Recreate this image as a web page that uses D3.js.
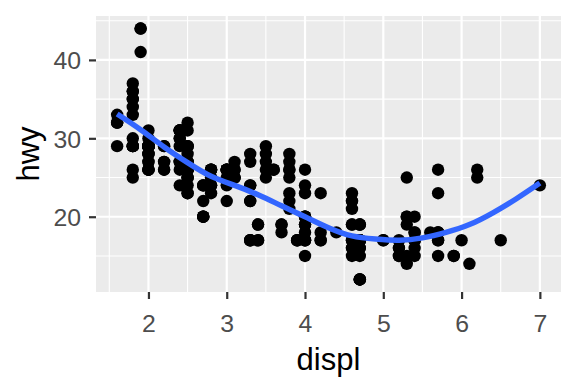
<!DOCTYPE html>
<html>
<head>
<meta charset="utf-8">
<script src="https://cdn.jsdelivr.net/npm/d3@7"></script>
<style>
  html, body { margin: 0; padding: 0; background: #fff; }
  svg { display: block; font-family: "Liberation Sans", Arial, sans-serif; }
</style>
</head>
<body>
<script>
// engine displacement values and the hwy mileages seen at each of them
const displValues = [1.6, 1.8, 1.9, 2.0, 2.2, 2.4, 2.5, 2.7, 2.8, 3.0, 3.1, 3.3, 3.4, 3.5, 3.6, 3.7, 3.8, 3.9,
  4.0, 4.2, 4.4, 4.6, 4.7, 5.0, 5.2, 5.3, 5.4, 5.6, 5.7, 5.9, 6.0, 6.1, 6.2, 6.5, 7.0]
const hwyByDispl = [
  [33, 32, 32, 29, 32],
  [29, 29, 26, 25, 34, 36, 36, 30, 33, 35, 37, 35, 29, 29],
  [44, 44, 41],
  [31, 30, 28, 27, 29, 26, 29, 28, 27, 29, 26, 29, 29, 29, 26, 29, 29, 29, 26, 28, 29],
  [26, 26, 29, 27, 27, 29],
  [27, 30, 24, 26, 27, 30, 31, 29, 27, 31, 31, 31, 31],
  [26, 26, 31, 32, 25, 24, 27, 25, 26, 23, 26, 26, 27, 23, 27, 25, 29, 29, 28, 29],
  [24, 24, 24, 20, 20, 20, 20, 22],
  [26, 26, 25, 25, 24, 24, 23, 26, 26],
  [24, 22, 26, 25, 26, 26, 26, 26],
  [27, 25, 25, 25, 26, 26],
  [22, 22, 24, 24, 17, 28, 17, 17, 27],
  [19, 17, 17, 19],
  [29, 27, 26, 25, 28],
  [26, 26],
  [19, 18, 19],
  [22, 21, 23, 26, 25, 26, 27, 28],
  [17, 17, 17],
  [23, 17, 19, 17, 19, 26, 24, 20, 15, 17, 19, 20, 20, 18, 20],
  [23, 17, 17, 18],
  [18],
  [17, 19, 16, 16, 17, 21, 22, 23, 22, 15, 19],
  [19, 19, 12, 17, 12, 17, 16, 12, 17, 17, 16, 17, 12, 19, 17, 15],
  [17, 17],
  [17, 15, 16, 15, 16],
  [20, 15, 20, 19, 14, 25],
  [17, 18, 15, 17, 20, 17, 16, 18],
  [18],
  [17, 26, 23, 15, 18, 17, 18, 18],
  [15, 15],
  [17],
  [14],
  [26, 25],
  [17],
  [24]
]

// loess smooth
const smoothDispl = [1.6, 1.9, 2.2, 2.5, 2.8, 3.1, 3.4, 3.7, 4.0, 4.3, 4.6, 4.9, 5.2, 5.5, 5.8, 6.1, 6.4, 6.7, 7.0]
const smoothHwy = [33.1, 31.1, 28.9, 26.9, 25.15, 24.0, 22.8, 21.4, 20.0, 18.6, 17.55, 17.15, 17.0, 17.3, 18.0, 19.0, 20.5, 22.3, 24.3]

const xTicks = [2, 3, 4, 5, 6, 7]
const xMinor = [1.5, 2.5, 3.5, 4.5, 5.5, 6.5]
const yTicks = [20, 30, 40]
const yMinor = [15, 25, 35, 45]

const width = 576
const height = 384
const panel = { left: 96, right: 561, top: 16, bottom: 292 }

const points = []
displValues.forEach((d, i) => hwyByDispl[i].forEach(h => points.push({ displ: d, hwy: h })))

// ggplot style 5% expansion of the data range
const expand = ([lo, hi]) => [lo - (hi - lo) * 0.05, hi + (hi - lo) * 0.05]
const x = d3.scaleLinear()
  .domain(expand(d3.extent(points, d => d.displ)))
  .range([panel.left, panel.right])
const y = d3.scaleLinear()
  .domain(expand(d3.extent(points, d => d.hwy)))
  .range([panel.bottom, panel.top])

const svg = d3.select('body').append('svg')
  .attr('xmlns', 'http://www.w3.org/2000/svg')
  .attr('width', width)
  .attr('height', height)

svg.append('rect')
  .attr('x', panel.left)
  .attr('y', panel.top)
  .attr('width', panel.right - panel.left)
  .attr('height', panel.bottom - panel.top)
  .attr('fill', '#EBEBEB')

const grid = svg.append('g').attr('stroke', '#fff').attr('fill', 'none')
grid.selectAll('line.xminor').data(xMinor).enter().append('line')
  .attr('x1', d => x(d)).attr('x2', d => x(d))
  .attr('y1', panel.top).attr('y2', panel.bottom)
  .attr('stroke-width', 1.1)
grid.selectAll('line.yminor').data(yMinor).enter().append('line')
  .attr('y1', d => y(d)).attr('y2', d => y(d))
  .attr('x1', panel.left).attr('x2', panel.right)
  .attr('stroke-width', 1.1)
grid.selectAll('line.xmajor').data(xTicks).enter().append('line')
  .attr('x1', d => x(d)).attr('x2', d => x(d))
  .attr('y1', panel.top).attr('y2', panel.bottom)
  .attr('stroke-width', 2.2)
grid.selectAll('line.ymajor').data(yTicks).enter().append('line')
  .attr('y1', d => y(d)).attr('y2', d => y(d))
  .attr('x1', panel.left).attr('x2', panel.right)
  .attr('stroke-width', 2.2)

svg.append('g')
  .selectAll('circle')
  .data(points)
  .enter()
  .append('circle')
  .attr('cx', d => x(d.displ))
  .attr('cy', d => y(d.hwy))
  .attr('r', 6.2)
  .attr('fill', '#000')

const line = d3.line()
  .x(d => x(d[0]))
  .y(d => y(d[1]))
  .curve(d3.curveNatural)

svg.append('path')
  .datum(d3.zip(smoothDispl, smoothHwy))
  .attr('d', line)
  .attr('fill', 'none')
  .attr('stroke', '#3366FF')
  .attr('stroke-width', 5.5)
  .attr('stroke-linecap', 'butt')

// axes
const xAxis = svg.append('g')
  .attr('transform', `translate(0, ${panel.bottom})`)
  .call(d3.axisBottom(x).tickValues(xTicks).tickSize(7).tickFormat(d3.format('d')))
const yAxis = svg.append('g')
  .attr('transform', `translate(${panel.left}, 0)`)
  .call(d3.axisLeft(y).tickValues(yTicks).tickSize(7).tickFormat(d3.format('d')))

;[xAxis, yAxis].forEach(g => {
  g.select('.domain').remove()
  g.selectAll('.tick line').attr('stroke', '#333').attr('stroke-width', 2.2)
  g.selectAll('.tick text')
    .attr('fill', '#4D4D4D')
    .style('font-size', '24.8px')
    .style('font-family', '"Liberation Sans", Arial, sans-serif')
})
xAxis.selectAll('.tick text').attr('y', 40).attr('dy', null)
yAxis.selectAll('.tick text').attr('x', -15).attr('dy', '0.36em')

svg.append('text')
  .attr('x', (panel.left + panel.right) / 2)
  .attr('y', 370)
  .attr('text-anchor', 'middle')
  .style('font-size', '31px')
  .attr('fill', '#000')
  .text('displ')

svg.append('text')
  .attr('transform', `translate(39, ${(panel.top + panel.bottom) / 2}) rotate(-90)`)
  .attr('text-anchor', 'middle')
  .style('font-size', '31px')
  .attr('fill', '#000')
  .text('hwy')
</script>
</body>
</html>
